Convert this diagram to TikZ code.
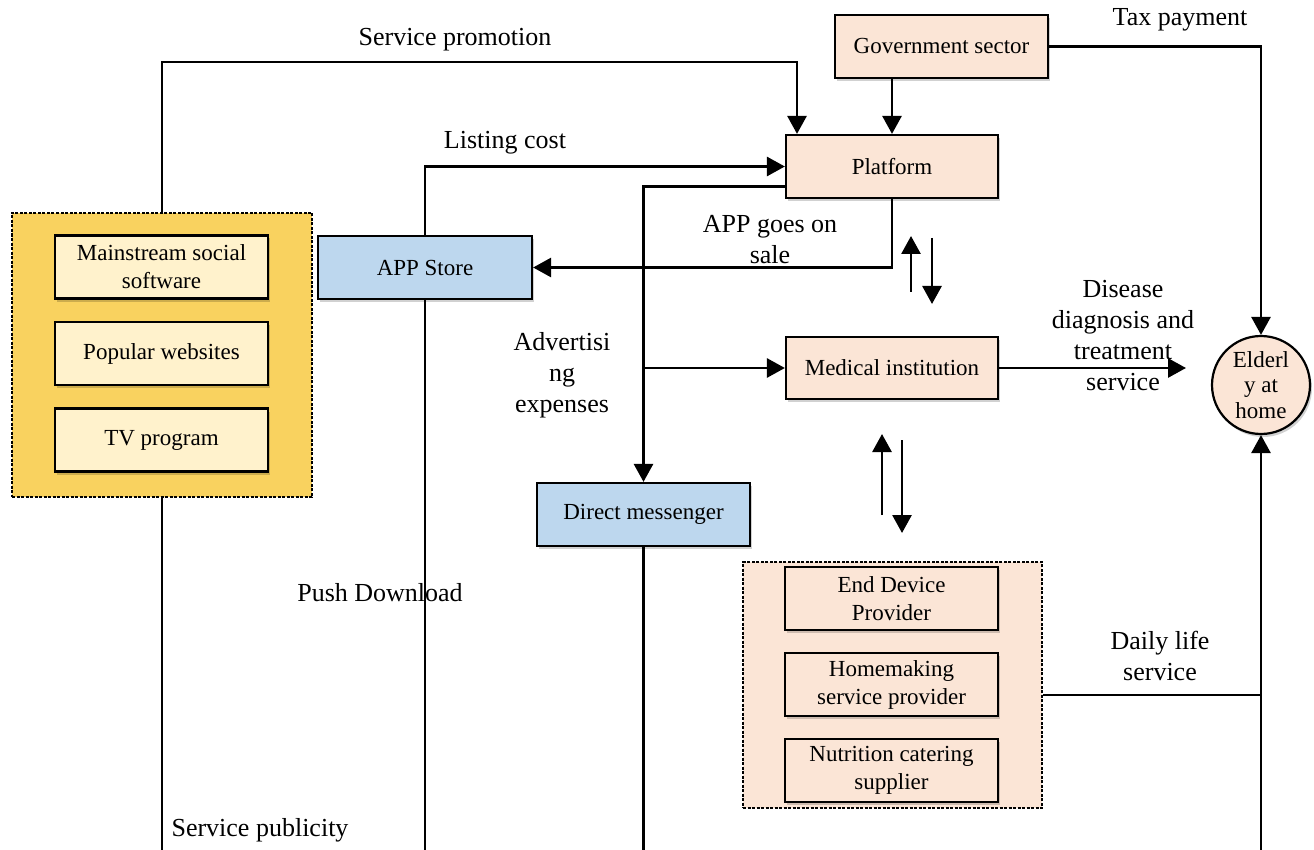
\documentclass[tikz,border=0pt]{standalone}
\usepackage{fontspec}
\setmainfont{Liberation Serif}
\usetikzlibrary{arrows.meta,shadows}
\definecolor{peach}{HTML}{FBE5D6}
\definecolor{skyb}{HTML}{BDD7EE}
\definecolor{gold}{HTML}{F9D25F}
\definecolor{cream}{HTML}{FFF2CC}
\tikzset{
  box/.style={draw=black, line width=2.2pt, rectangle, minimum width=213pt,
    minimum height=63pt, align=center, inner sep=0pt,
    font=\fontsize{23}{28}\selectfont,
    drop shadow={shadow xshift=2pt, shadow yshift=-3pt, opacity=0.18, fill=black}},
  peachbox/.style={box, fill=peach},
  bluebox/.style={box, fill=skyb},
  creambox/.style={box, fill=cream},
  groupbox/.style={draw=black, line width=1.4pt, dash pattern=on 3pt off 1.5pt,
    rectangle, inner sep=0pt},
  lbl/.style={align=center, inner sep=0pt, font=\fontsize{26}{31}\selectfont},
  conn/.style={line width=2.8pt},
  arr/.style={conn, -{Triangle[length=18pt,width=19pt]}},
}
\begin{document}
\begin{tikzpicture}[x=1pt,y=-1pt]
\useasboundingbox (0,0) rectangle (1314,850);
\clip (0,0) rectangle (1314,850);
\fill[white] (0,0) rectangle (1314,850);

% channel group
\node[groupbox, fill=gold, minimum width=300pt, minimum height=284pt] (grp) at (162,355) {};
\node[creambox] (ms) at (161.5,267) {Mainstream social\\software};
\node[creambox] (pw) at (161.5,353.5) {Popular websites};
\node[creambox] (tv) at (161.5,440) {TV program};

% supplier group
\node[groupbox, fill=peach, minimum width=299pt, minimum height=246pt] (supp) at (892.5,685) {};
\node[peachbox] (ed) at (891.5,598.5) {End Device\\Provider};
\node[peachbox] (hm) at (891.5,684.5) {Homemaking\\service provider};
\node[peachbox] (nc) at (891.5,770.5) {Nutrition catering\\supplier};

% main actors
\node[peachbox] (gov) at (941.5,46.5) {Government sector};
\node[peachbox, minimum width=212pt] (plat) at (892,166.5) {Platform};
\node[peachbox, minimum width=212pt, minimum height=62pt] (med) at (892,368) {Medical institution};
\node[bluebox, minimum width=214pt] (app) at (425,267.5) {APP Store};
\node[bluebox] (dm) at (643.5,514.5) {Direct messenger};
\node[circle, draw=black, line width=2.2pt, fill=peach, minimum size=98pt, inner sep=0pt,
  align=center, font=\fontsize{23}{25.5}\selectfont,
  drop shadow={shadow xshift=2pt, shadow yshift=-3pt, opacity=0.18, fill=black}]
  (eld) at (1261,385) {Elderl\\y at\\home};

% helper points
\coordinate (sp) at (797,62);
\coordinate (bus) at (1261,866);
\coordinate (dtip) at (1186,368);

% connectors
\draw[arr] (grp.north) |- (sp) -- (sp |- plat.north);
\draw[arr] (plat.north |- gov.south) -- (plat.north);
\draw[arr] (gov.east) -| (eld.north);
\draw[arr] (app.north) |- (plat.west);
\draw[arr] ([yshift=-20pt]plat.west) -| (dm.north);
\draw[arr] (dm.north |- med.west) -- (med.west);
\draw[arr] (plat.south) |- (app.east);
\draw[arr] (med.east) -- (dtip);
\draw[conn] ([yshift=-10pt]supp.east) -- ([yshift=-10pt]supp.east -| eld.south);
\draw[conn] (grp.south) |- (bus);
\draw[conn] (app.south) |- (bus);
\draw[conn] (dm.south) |- (bus);
\draw[arr] (bus) -- (eld.south);

% two-way exchanges
\draw[arr] (911,292) -- (911,236);
\draw[arr] (932,238) -- (932,304);
\draw[arr] (882,515) -- (882,434);
\draw[arr] (902,440) -- (902,533);

% labels
\node[lbl] (l1) at (455,40) {Service promotion};
\node[lbl] (l2) at (1180,20) {Tax payment};
\node[lbl] (l3) at (505,143) {Listing cost};
\node[lbl] (l4) at (770,240) {APP goes on\\sale};
\node[lbl] (l5) at (562,375) {Advertisi\\ng\\expenses};
\node[lbl] (l6) at (1123,336) {Disease\\diagnosis and\\treatment\\service};
\node[lbl] (l7) at (380,593) {Push Download};
\node[lbl] (l8) at (1160,656) {Daily life\\service};
\node[lbl] (l9) at (260,830) {Service publicity};
\end{tikzpicture}
\end{document}
